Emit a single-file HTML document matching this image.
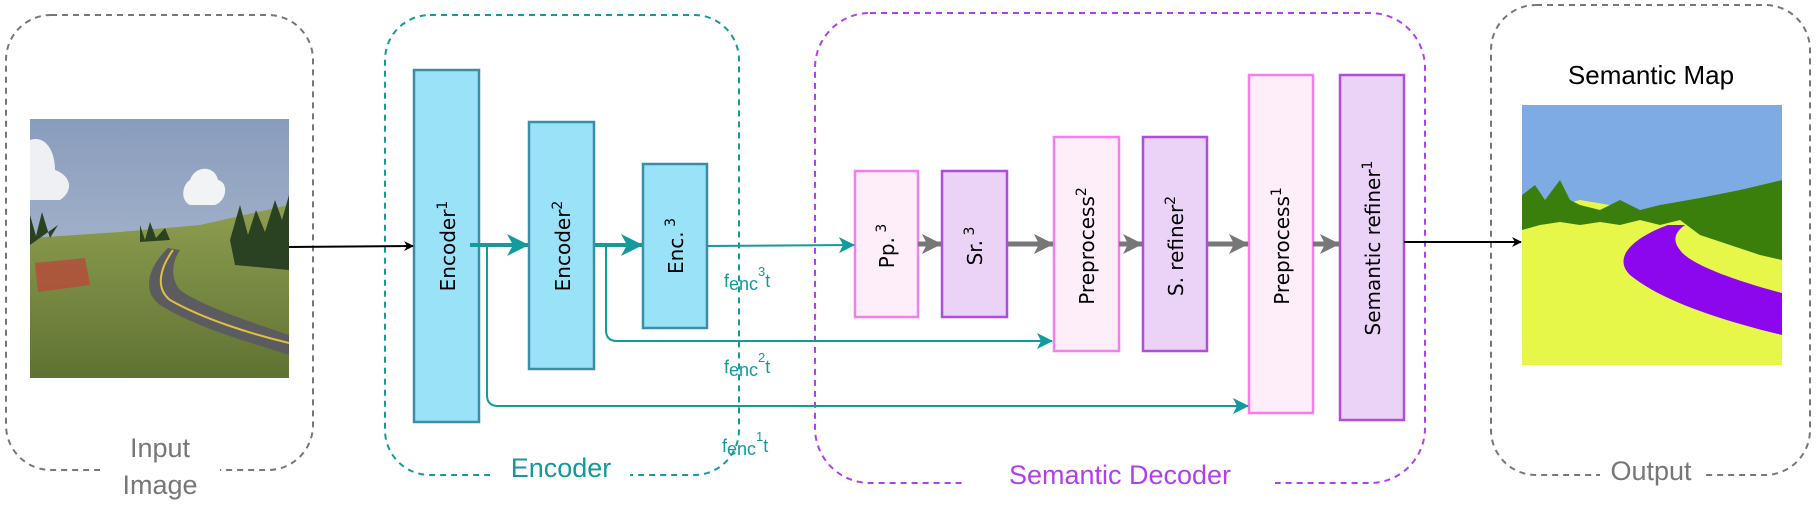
<!DOCTYPE html>
<html><head><meta charset="utf-8"><style>
html,body{margin:0;padding:0;background:#fff;}
svg{display:block;}
text{font-family:"Liberation Sans",sans-serif;}
.dv text{font-family:"DejaVu Sans",sans-serif;}
</style></head><body>
<svg width="1818" height="506" viewBox="0 0 1818 506" xmlns="http://www.w3.org/2000/svg">
<defs>
<marker id="ab" markerWidth="10" markerHeight="10" refX="9" refY="5" orient="auto" markerUnits="userSpaceOnUse"><path d="M0,0 L10,5 L0,10 L3,5Z" fill="#000"/></marker>
<marker id="at" markerWidth="16" markerHeight="16" refX="15" refY="8" orient="auto" markerUnits="userSpaceOnUse"><path d="M0,0 L16,8 L0,16 L4,8Z" fill="#139a9a"/></marker>
<marker id="atb" markerWidth="22" markerHeight="22" refX="21" refY="11" orient="auto" markerUnits="userSpaceOnUse"><path d="M0,0 L22,11 L0,22 L6,11Z" fill="#139a9a"/></marker>
<marker id="ag" markerWidth="20" markerHeight="20" refX="19" refY="10" orient="auto" markerUnits="userSpaceOnUse"><path d="M0,0 L20,10 L0,20 L5,10Z" fill="#777"/></marker>
<linearGradient id="sky" x1="0" y1="0" x2="0" y2="1"><stop offset="0" stop-color="#8a9cbc"/><stop offset="1" stop-color="#b8c6d8"/></linearGradient>
<linearGradient id="grass" x1="0" y1="0" x2="0" y2="1"><stop offset="0" stop-color="#8e9e50"/><stop offset="1" stop-color="#5f7232"/></linearGradient>
</defs>

<rect x="6" y="15" width="307" height="455" rx="45" fill="none" stroke="#777" stroke-width="2" stroke-dasharray="6,5"/>
<rect x="100" y="455" width="120" height="30" fill="#fff"/>
<rect x="385" y="15" width="354" height="460" rx="45" fill="none" stroke="#139a9a" stroke-width="2" stroke-dasharray="6,5"/>
<rect x="490" y="455" width="140" height="30" fill="#fff"/>
<rect x="815" y="13" width="610" height="470" rx="55" fill="none" stroke="#b040ee" stroke-width="2" stroke-dasharray="6,5"/>
<rect x="965" y="465" width="310" height="30" fill="#fff"/>
<rect x="1491" y="5" width="319" height="470" rx="45" fill="none" stroke="#777" stroke-width="2" stroke-dasharray="6,5"/>
<rect x="1600" y="455" width="102" height="30" fill="#fff"/>

<text x="160" y="457" font-size="27" fill="#777" text-anchor="middle">Input</text>
<text x="160" y="494" font-size="27" fill="#777" text-anchor="middle">Image</text>
<text x="561" y="477" font-size="27" fill="#139a9a" text-anchor="middle">Encoder</text>
<text x="1120" y="484" font-size="27" fill="#b040ee" text-anchor="middle">Semantic Decoder</text>
<text x="1651" y="480" font-size="27" fill="#777" text-anchor="middle">Output</text>
<text x="1651" y="84" font-size="26" fill="#000" text-anchor="middle">Semantic Map</text>

<rect x="30" y="119" width="259" height="259" fill="url(#sky)"/>
<path d="M30,140 C45,135 55,150 55,170 C70,175 75,190 60,200 L30,200Z" fill="#eef0f3"/>
<path d="M190,180 C195,165 215,165 218,180 C228,182 228,200 215,205 L190,205 C180,200 182,185 190,180Z" fill="#f2f3f5"/>
<path d="M30,238 L120,232 L200,225 L289,205 L289,378 L30,378Z" fill="url(#grass)"/>
<path d="M30,215 L36,236 L42,212 L50,238 L58,225 L30,245Z M140,225 L145,240 L150,222 L156,238 L165,228 L170,240 L140,242Z M230,240 L240,205 L248,235 L256,210 L265,232 L275,200 L282,220 L289,195 L289,270 L235,265Z" fill="#2a4222"/>
<path d="M35,263 L85,258 L90,285 L38,292Z" fill="#b84a3a" opacity="0.8"/>
<path d="M168,248 C150,265 140,290 160,305 C200,330 260,345 289,355 L289,335 C250,322 200,305 180,290 C170,278 172,262 180,250Z" fill="#5c5c60"/>
<path d="M173,250 C160,268 155,288 170,300 C205,320 255,335 289,343" fill="none" stroke="#e0c040" stroke-width="2"/>

<rect x="1522" y="105" width="260" height="260" fill="#e6f74a"/>
<path d="M1522,105 L1782,105 L1782,180 L1700,200 L1640,210 L1580,200 L1522,215Z" fill="#7eabe3"/>
<path d="M1522,195 L1535,185 L1545,200 L1560,180 L1570,200 L1580,205 L1600,210 L1620,200 L1640,210 L1660,205 L1700,198 L1740,190 L1782,180 L1782,260 L1760,255 L1730,245 L1700,235 L1680,220 L1660,225 L1640,220 L1620,225 L1600,222 L1580,225 L1560,222 L1540,225 L1522,230Z" fill="#3a7f0c"/>
<path d="M1668,225 C1640,235 1610,255 1630,275 C1660,300 1720,320 1782,335 L1782,293 C1740,282 1690,265 1680,250 C1672,240 1675,232 1685,225Z" fill="#8c06ee"/>

<g stroke="#3a8fa8" stroke-width="2.5" fill="#9ae2f7">
<rect x="414" y="70" width="65" height="352"/>
<rect x="529" y="122" width="65" height="247"/>
<rect x="643" y="164" width="64" height="164"/>
</g>
<g stroke="#f57df0" stroke-width="2.5" fill="#fdeefa">
<rect x="855" y="171" width="63" height="146"/>
<rect x="1054" y="137" width="65" height="214"/>
<rect x="1249" y="75" width="64" height="338"/>
</g>
<g stroke="#b04de0" stroke-width="2.5" fill="#ebd3f8">
<rect x="942" y="171" width="65" height="146"/>
<rect x="1143" y="137" width="64" height="214"/>
<rect x="1340" y="75" width="64" height="345"/>
</g>

<g class="dv" font-size="20" fill="#000" text-anchor="middle">
<text transform="translate(455,246) rotate(-90)">Encoder<tspan font-size="14" dy="-8">1</tspan></text>
<text transform="translate(570,246) rotate(-90)">Encoder<tspan font-size="14" dy="-8">2</tspan></text>
<text transform="translate(683,246) rotate(-90)">Enc.<tspan font-size="14" dy="-8"> 3</tspan></text>
<text transform="translate(894,246) rotate(-90)">Pp.<tspan font-size="14" dy="-8"> 3</tspan></text>
<text transform="translate(982,246) rotate(-90)">Sr.<tspan font-size="14" dy="-8"> 3</tspan></text>
<text transform="translate(1094,246) rotate(-90)">Preprocess<tspan font-size="14" dy="-8">2</tspan></text>
<text transform="translate(1183,246) rotate(-90)">S. refiner<tspan font-size="14" dy="-8">2</tspan></text>
<text transform="translate(1289,246) rotate(-90)">Preprocess<tspan font-size="14" dy="-8">1</tspan></text>
<text transform="translate(1380,248) rotate(-90)">Semantic refiner<tspan font-size="14" dy="-8">1</tspan></text>
</g>

<line x1="289" y1="247" x2="413" y2="246" stroke="#000" stroke-width="2" marker-end="url(#ab)"/>
<line x1="470" y1="245" x2="528" y2="245" stroke="#139a9a" stroke-width="4" marker-end="url(#atb)"/>
<line x1="595" y1="245" x2="642" y2="245" stroke="#139a9a" stroke-width="4" marker-end="url(#atb)"/>
<line x1="707" y1="246" x2="854" y2="245" stroke="#139a9a" stroke-width="2" marker-end="url(#at)"/>
<path d="M606,245 L606,330 Q606,341 617,341 L1052,341" fill="none" stroke="#139a9a" stroke-width="2" marker-end="url(#at)"/>
<path d="M487,245 L487,395 Q487,406 498,406 L1248,406" fill="none" stroke="#139a9a" stroke-width="2" marker-end="url(#at)"/>
<g stroke="#777" stroke-width="5">
<line x1="918" y1="244" x2="941" y2="244" marker-end="url(#ag)"/>
<line x1="1007" y1="244" x2="1053" y2="244" marker-end="url(#ag)"/>
<line x1="1119" y1="244" x2="1142" y2="244" marker-end="url(#ag)"/>
<line x1="1207" y1="244" x2="1248" y2="244" marker-end="url(#ag)"/>
<line x1="1313" y1="244" x2="1339" y2="244" marker-end="url(#ag)"/>
</g>
<line x1="1404" y1="242" x2="1521" y2="242" stroke="#000" stroke-width="2" marker-end="url(#ab)"/>

<g font-size="18" fill="#139a9a">
<text x="724" y="287">f<tspan dy="3">enc</tspan><tspan font-size="13" dy="-14">3</tspan><tspan dy="11">t</tspan></text>
<text x="724" y="373">f<tspan dy="3">enc</tspan><tspan font-size="13" dy="-14">2</tspan><tspan dy="11">t</tspan></text>
<text x="722" y="452">f<tspan dy="3">enc</tspan><tspan font-size="13" dy="-14">1</tspan><tspan dy="11">t</tspan></text>
</g>
</svg>
</body></html>
